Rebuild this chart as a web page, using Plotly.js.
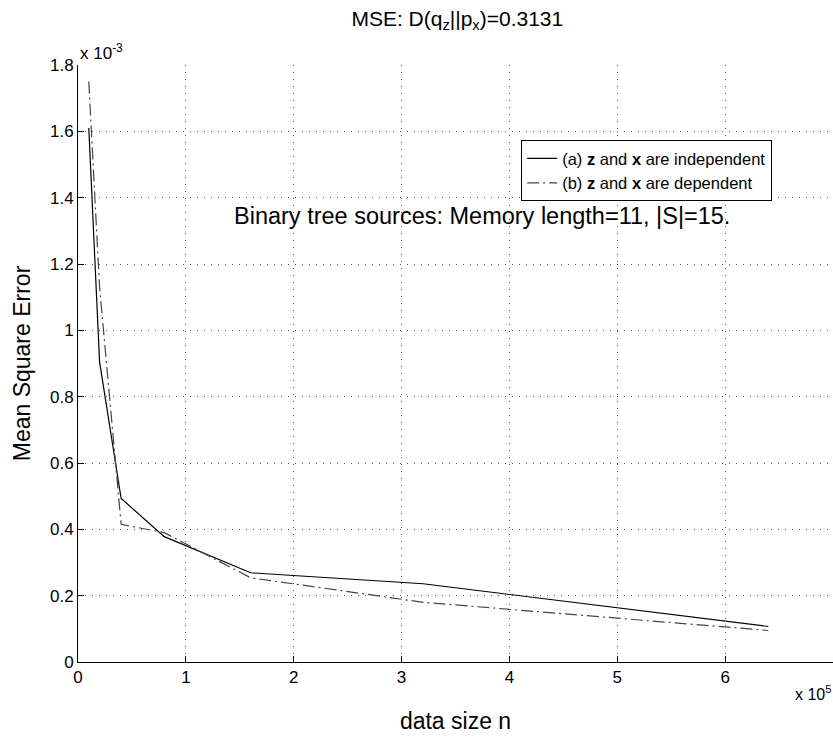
<!DOCTYPE html>
<html>
<head>
<meta charset="utf-8">
<script src="https://cdn.plot.ly/plotly-3.0.1.min.js"></script>
<style>html,body{margin:0;padding:0;background:#fff;}#chart{width:833px;height:738px;}</style>
</head>
<body>
<div id="chart"></div>
<script>
// data size n (in units of 10^5)
const dataSize = [0.1, 0.2, 0.4, 0.8, 1.6, 3.2, 6.4];
// Mean square error (in units of 10^-3)
const mseIndependent = [1.61, 0.905, 0.493, 0.378, 0.269, 0.236, 0.107];
const mseDependent   = [1.75, 1.13, 0.415, 0.39, 0.254, 0.18, 0.095];
const seriesNames = ["(a) <b>z</b> and <b>x</b> are independent", "(b) <b>z</b> and <b>x</b> are dependent"];
const xTicks = [0, 1, 2, 3, 4, 5, 6, 7];
const yTicks = [0, 0.2, 0.4, 0.6, 0.8, 1, 1.2, 1.4, 1.6, 1.8];

const font = "Liberation Sans, Arial, Helvetica, sans-serif";

const traces = [
  {x: dataSize, y: mseIndependent, mode: "lines", name: seriesNames[0],
   line: {color: "#000", width: 1.2, dash: "solid"}},
  {x: dataSize, y: mseDependent, mode: "lines", name: seriesNames[1],
   line: {color: "#444", width: 1.2, dash: "12px,4px,2px,4px"}}
];

const gridDash = "1px,6px";
const layout = {
  width: 833, height: 738,
  margin: {l: 78, r: 0, t: 65, b: 76},
  paper_bgcolor: "#fff", plot_bgcolor: "#fff",
  font: {family: font, size: 17, color: "#000"},
  showlegend: true,
  title: {text: "MSE: D(q<sub>z</sub>||p<sub>x</sub>)=0.3131", font: {family: font, size: 21, color: "#000"},
          x: 0.549, xanchor: "center", y: 0.975, yanchor: "middle"},
  xaxis: {range: [0, 7], tickvals: xTicks, ticktext: xTicks.map(String),
          showline: true, linecolor: "#000", linewidth: 1, mirror: false,
          ticks: "inside", ticklen: 6, tickcolor: "#000",
          showgrid: true, gridcolor: "#555", gridwidth: 1, griddash: gridDash,
          zeroline: false, tickfont: {size: 17},
          title: {text: "data size n", font: {size: 23}, standoff: 26}},
  yaxis: {range: [0, 1.8], tickvals: yTicks, ticktext: yTicks.map(String),
          showline: true, linecolor: "#000", linewidth: 1, mirror: false,
          ticks: "inside", ticklen: 6, tickcolor: "#000",
          showgrid: true, gridcolor: "#555", gridwidth: 1, griddash: gridDash,
          zeroline: false, tickfont: {size: 17},
          title: {text: "Mean Square Error", font: {size: 23}, standoff: 12}},
  legend: {x: 0.587, y: 0.874, xanchor: "left", yanchor: "top",
           bgcolor: "#fff", bordercolor: "#000", borderwidth: 1,
           font: {size: 16.5}, tracegroupgap: 0, itemwidth: 30},
  annotations: [
    {text: "Binary tree sources: Memory length=11, |S|=15.", x: 3.75, y: 1.345, xref: "x", yref: "y",
     showarrow: false, font: {size: 23.5}, xanchor: "center", yanchor: "middle"},
    {text: "x 10<sup>-3</sup>", x: 0, y: 1, xref: "paper", yref: "paper", xanchor: "left", yanchor: "bottom",
     showarrow: false, font: {size: 17}, yshift: 0},
    {text: "x 10<sup>5</sup>", x: 1, y: -0.052, xref: "paper", yref: "paper", xanchor: "right", yanchor: "middle",
     showarrow: false, font: {size: 16}}
  ]
};

Plotly.newPlot("chart", traces, layout, {displayModeBar: false, staticPlot: true});
</script>
</body>
</html>
